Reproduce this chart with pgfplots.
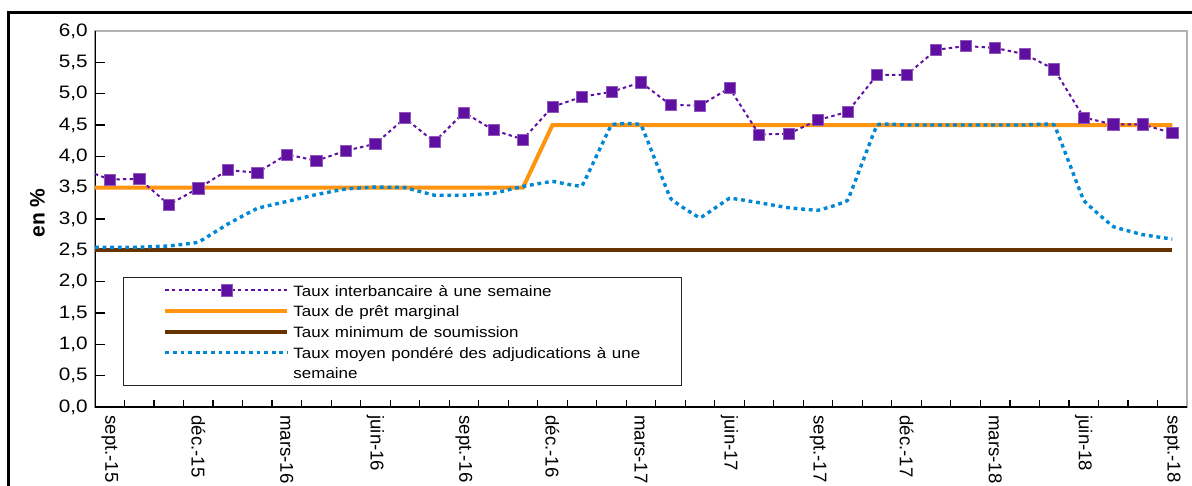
\documentclass[border=0pt]{standalone}
\usepackage{fontspec}
\setmainfont{Liberation Sans}
\setsansfont{Liberation Sans}
\usepackage{graphicx}
\usepackage{pgfplots}
\pgfplotsset{compat=1.18}
\definecolor{cPurple}{RGB}{96,16,160}
\definecolor{cOrange}{RGB}{255,148,16}
\definecolor{cBrown}{RGB}{102,51,0}
\definecolor{cBlue}{RGB}{0,136,214}
\newcommand{\hs}[1]{\rule[-3.12pt]{0pt}{10.4pt}\scalebox{1.13}[1]{#1}}
\newcommand{\hsy}[1]{\scalebox{1.15}[1]{#1}}
\pgfplotstableread{
x y
0 3.63
1 3.64
2 3.23
3 3.49
4 3.78
5 3.74
6 4.03
7 3.93
8 4.09
9 4.20
10 4.61
11 4.23
12 4.70
13 4.42
14 4.27
15 4.79
16 4.95
17 5.03
18 5.18
19 4.82
20 4.81
21 5.09
22 4.35
23 4.36
24 4.58
25 4.71
26 5.30
27 5.30
28 5.70
29 5.76
30 5.73
31 5.63
32 5.39
33 4.62
34 4.51
35 4.51
36 4.37
}\interbank
\pgfplotstableread{
x y
-0.5 2.55
0 2.55
1 2.55
2 2.57
3 2.63
4 2.92
5 3.17
6 3.28
7 3.39
8 3.48
9 3.51
10 3.50
11 3.38
12 3.38
13 3.41
14 3.52
15 3.60
16 3.53
17 4.50
18 4.50
19 3.33
20 3.02
21 3.33
22 3.26
23 3.18
24 3.14
25 3.30
26 4.50
27 4.50
28 4.50
29 4.50
30 4.50
31 4.50
32 4.50
33 3.30
34 2.88
35 2.75
36 2.68
}\weighted
\begin{document}
\begin{tikzpicture}
\draw[line width=1.75pt, line join=miter] (4.25pt,-260pt) -- (4.25pt,-6.15pt) -- (605pt,-6.15pt);
\begin{axis}[
  at={(47.5pt,-203.5pt)}, anchor=south west,
  scale only axis, width=546pt, height=188pt,
  xmin=-0.5, xmax=36.5, ymin=0, ymax=6,
  axis line style={draw=black!30, line width=0.75pt},
  tick align=inside,
  xtick pos=left, ytick pos=left,
  xtick={0,3,...,36},
  xticklabels={sept.-15,déc.-15,mars-16,juin-16,sept.-16,déc.-16,mars-17,juin-17,sept.-17,déc.-17,mars-18,juin-18,sept.-18},
  major x tick style={draw=none},
  minor xtick={-0.5,0.5,...,36.5},
  minor tick length=3.5pt,
  major tick length=5pt,
  ytick={0,0.5,...,6},
  yticklabels={{\hsy{0,0}},{\hsy{0,5}},{\hsy{1,0}},{\hsy{1,5}},{\hsy{2,0}},{\hsy{2,5}},{\hsy{3,0}},{\hsy{3,5}},{\hsy{4,0}},{\hsy{4,5}},{\hsy{5,0}},{\hsy{5,5}},{\hsy{6,0}}},
  tick style={black, line width=0.6pt},
  xticklabel style={font=\fontsize{9.3}{10}\selectfont, yshift=-4pt, rotate=-90, anchor=west, inner sep=0pt},
  yticklabel style={font=\fontsize{9}{10}\selectfont, anchor=east, inner sep=0pt, xshift=-3.5pt},
  ylabel={en \%},
  every axis y label/.style={at={(axis description cs:-0.0527,0.516)}, rotate=90, anchor=center, font=\bfseries\fontsize{10.5}{12}\selectfont},
  legend style={at={(0.02564,0.34574)}, anchor=north west, draw=black!85, line width=0.5pt, fill=white,
     inner xsep=0pt, inner ysep=2pt, row sep=1.55pt, column sep=0pt,
     font=\fontsize{7.5}{10.4}\selectfont,
     nodes={inner sep=0pt, text width=194pt, anchor=west}},
  legend cell align=left,
  legend image code/.code={\path[draw=none,fill=none] (-21pt,0pt) -- (64pt,0pt);
     \draw[mark repeat=2,mark phase=2,#1] plot coordinates {(0pt,0pt) (30.5pt,0pt) (61pt,0pt)};},
]
\draw[black, line width=1pt] (rel axis cs:0,1) -- (rel axis cs:0,0) -- (rel axis cs:1,0);
\addplot[cBrown, line width=2pt, no marks, forget plot] coordinates {(-0.5,2.5) (36,2.5)};
\addplot[cOrange, line width=2pt, no marks, forget plot] coordinates {(-0.5,3.5) (14,3.5) (15,4.5) (36,4.5)};
\addplot[cBlue, line width=1.7pt, line cap=butt, dash pattern=on 1.9pt off 1.9pt, no marks, smooth, tension=0.1, forget plot] table[x=x,y=y] {\weighted};
\addplot[cPurple, line width=1pt, dash pattern=on 1.7pt off 1.6pt, no marks, forget plot] coordinates {(-0.5,3.72) (0,3.63)};
\addplot[cPurple, line width=1pt, dash pattern=on 1.7pt off 1.6pt, mark=square*, mark size=2.8pt, mark options={solid, fill=cPurple, draw=cPurple!70, line width=0.3pt}] table[x=x,y=y] {\interbank};
\addlegendentry{\hs{Taux interbancaire à une semaine}}
\addlegendimage{cOrange, line width=2pt}
\addlegendentry{\hs{Taux de prêt marginal}}
\addlegendimage{cBrown, line width=2pt}
\addlegendentry{\hs{Taux minimum de soumission}}
\addlegendimage{cBlue, line width=1.7pt, line cap=butt, dash pattern=on 1.9pt off 1.9pt}
\addlegendentry{\hs{Taux moyen pondéré des adjudications à une}}
\addlegendimage{empty legend}
\addlegendentry{\hs{semaine}}
\end{axis}
\pgfresetboundingbox
\useasboundingbox (0pt,0pt) rectangle (596pt,-243pt);
\end{tikzpicture}
\end{document}
